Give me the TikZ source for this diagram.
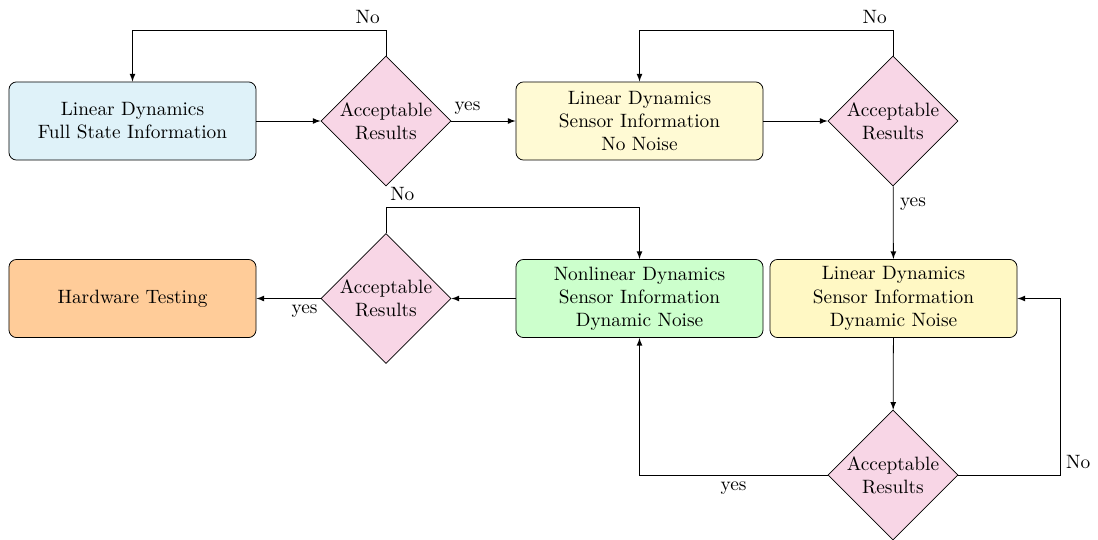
\documentclass[tikz,border=0pt]{standalone}
\usetikzlibrary{shapes.geometric,arrows}
\definecolor{boxblue}{RGB}{223,242,249}
\definecolor{boxyellow}{RGB}{255,250,212}
\definecolor{boxyellowb}{RGB}{255,248,196}
\definecolor{boxgreen}{RGB}{204,255,204}
\definecolor{boxorange}{RGB}{255,204,153}
\definecolor{decpink}{RGB}{248,214,230}
\begin{document}
\begin{tikzpicture}[x=0.518pt,y=-0.518pt,>=latex,
  stage/.style={draw,rounded corners=4pt,align=center,minimum width=128pt,minimum height=40.5pt,inner sep=2pt},
  decision/.style={draw,diamond,fill=decpink,align=center,minimum width=67.4pt,minimum height=67.4pt,inner sep=0pt},
  flow/.style={->}]
\useasboundingbox (0,0) rectangle (1098,539);

% process stages
\node[stage,fill=boxblue] (lin) at (132.5,121) {Linear Dynamics\\Full State Information};
\node[stage,fill=boxyellow] (sens) at (639.5,121) {Linear Dynamics\\Sensor Information\\No Noise};
\node[stage,fill=boxyellowb] (dyn) at (893.5,298.5) {Linear Dynamics\\Sensor Information\\Dynamic Noise};
\node[stage,fill=boxgreen] (nonlin) at (639.5,298.5) {Nonlinear Dynamics\\Sensor Information\\Dynamic Noise};
\node[stage,fill=boxorange] (hw) at (132.5,298.5) {Hardware Testing};

% checks
\node[decision] (c1) at (386,121) {Acceptable\\Results};
\node[decision] (c2) at (893,121) {Acceptable\\Results};
\node[decision] (c3) at (386,298.5) {Acceptable\\Results};
\node[decision] (c4) at (893,475) {Acceptable\\Results};

% bend points of the loops
\coordinate (t1) at (386,30);
\coordinate (t2) at (893,30);
\coordinate (t3) at (386,207);
\coordinate (r4) at (1060,475);

% forward flow
\draw[flow] (lin) -- (c1);
\draw[flow] (c1) -- node[pos=0.25,above]{yes} (sens);
\draw[flow] (sens) -- (c2);
\draw[flow] (c2) -- node[pos=0.25,right]{yes} (dyn);
\draw[flow] (dyn) -- (c4);
\draw[flow] (c4.west) -| node[pos=0.25,below]{yes} (nonlin.south);
\draw[flow] (nonlin) -- (c3);
\draw[flow] (c3) -- node[pos=0.25,below]{yes} (hw);

% retry loops
\draw[flow] (c1.north) -- (t1) node[above left,inner sep=2pt,xshift=-1pt,yshift=1pt]{No} -| (lin.north);
\draw[flow] (c2.north) -- (t2) node[above left,inner sep=2pt,xshift=-1pt,yshift=1pt]{No} -| (sens.north);
\draw[flow] (c3.north) -- (t3) node[above right,inner sep=2pt,yshift=1pt]{No} -| (nonlin.north);
\draw[flow] (c4.east) -- (r4) node[above right,inner sep=3pt]{No} |- (dyn.east);
\end{tikzpicture}
\end{document}
